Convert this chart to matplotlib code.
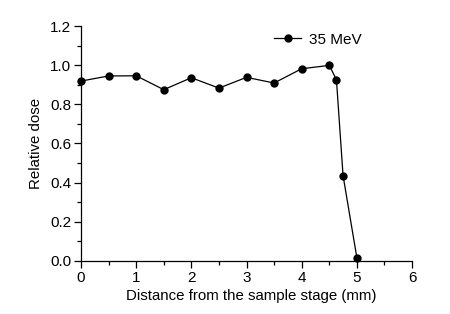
import matplotlib
matplotlib.use("Agg")
import matplotlib.pyplot as plt
from matplotlib.ticker import MultipleLocator

plt.rcParams['font.family'] = ['Liberation Sans', 'DejaVu Sans']

# Datos
distancia = [0, 0.5, 1.0, 1.5, 2.0, 2.5, 3.0, 3.5, 4.0, 4.5, 4.63, 4.75, 5.0]
dosis = [0.919, 0.945, 0.946, 0.875, 0.936, 0.883, 0.938, 0.909, 0.982,
         0.999, 0.926, 0.436, 0.017]
etiqueta = '35 MeV'

fig = plt.figure(figsize=(4.5, 3.14), dpi=100)
ax = fig.add_axes([0.18, 0.169, 0.7356, 0.748])

ax.plot(distancia, dosis, color='black', lw=0.9, marker='o', ms=5,
        label=etiqueta, clip_on=False, zorder=3)

ax.set_xlim(0, 6)
ax.set_ylim(0, 1.2)
ax.xaxis.set_major_locator(MultipleLocator(1))
ax.xaxis.set_minor_locator(MultipleLocator(0.5))
ax.yaxis.set_major_locator(MultipleLocator(0.2))
ax.yaxis.set_minor_locator(MultipleLocator(0.1))
ax.yaxis.set_major_formatter(plt.FuncFormatter(lambda v, p: '%.1f' % v))

for lado in ['top', 'right']:
    ax.spines[lado].set_visible(False)
for lado in ['left', 'bottom']:
    ax.spines[lado].set_linewidth(0.9)

ax.tick_params(which='major', direction='out', length=5, width=0.9,
               labelsize=11, pad=2)
ax.tick_params(which='minor', direction='out', length=3, width=0.9)

ax.set_xlabel('Distance from the sample stage (mm)', fontsize=10.8, labelpad=3)
ax.xaxis.label.set_x(0.513)
ax.set_ylabel('Relative dose', fontsize=10.8, labelpad=5)

ax.legend(loc='upper left', bbox_to_anchor=(0.541, 1.03), frameon=False,
          fontsize=11, handlelength=1.8, handletextpad=0.5)

fig.savefig('out.png', dpi=100)
